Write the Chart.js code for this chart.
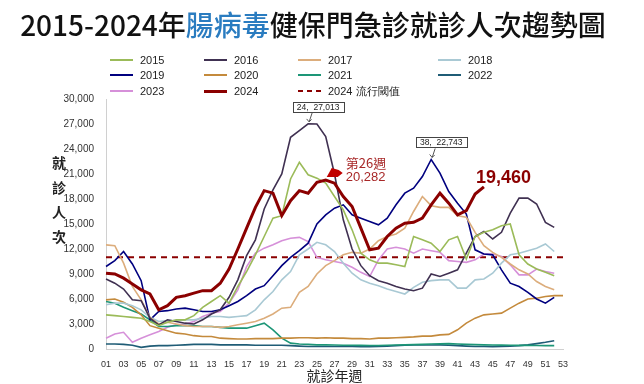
<!DOCTYPE html>
<html>
<head>
<meta charset="utf-8">
<script src="https://cdn.jsdelivr.net/npm/chart.js@4.4.1/dist/chart.umd.min.js"></script>
<style>
  body { margin: 0; background: #fff; }
  #wrap { position: relative; width: 644px; height: 384px; overflow: hidden; background: #fff; }
  #title { position: absolute; left: 0; top: 4px; width: 626px; text-align: center;
           font: 500 28px "Noto Sans CJK TC", sans-serif; color: #111; white-space: nowrap; }
  #title span { color: #2a7cc0; }
  canvas { position: absolute; left: 0; top: 0; }
  .lg { position: absolute; font: 11px Arial, sans-serif; color: #222; height: 14px; line-height: 14px; white-space: nowrap; }
  .lg i { display: inline-block; width: 23px; height: 2px; vertical-align: middle; margin-right: 7px; margin-top: -2px; }
</style>
</head>
<body>
<div id="wrap">
  <canvas id="evChart" width="644" height="384"></canvas>
  <div id="title">2015-2024年<span>腸病毒</span>健保門急診就診人次趨勢圖</div>
  <div id="legend"></div>
</div>
<script>
// Week labels (x axis)
const weeks = ['01','02','03','04','05','06','07','08','09','10','11','12','13','14','15','16','17','18',
  '19','20','21','22','23','24','25','26','27','28','29','30','31','32','33','34','35','36',
  '37','38','39','40','41','42','43','44','45','46','47','48','49','50','51','52','53'];

const years = ['2015','2016','2017','2018','2019','2020','2021','2022','2023','2024'];

// Weekly visits per year
const v2015 = [4100,4000,3900,3800,3700,3300,2800,3200,3500,3500, 4000,5000,5700,6400,5500,7500,9300,11300,13500,15700,
  16000,20400,22400,20900,20500,19900,18300,16700,14300,11500, 10700,10300,10300,10100,9900,13500,13100,12700,11700,13100,
  13500,10800,13500,14000,14300,14800,15000,11300,10200,9600, 9200,8800];
const v2016 = [8400,7900,7200,5900,5800,3700,2900,3500,3300,3100, 3000,3500,4200,4700,6200,8300,11200,13100,16800,19100,
  21000,25400,26200,27013,27000,25500,21000,15500,12000,10000, 8800,8200,7900,7500,7200,7000,7300,9000,8700,9100,
  9500,11500,13500,14100,13200,14000,16300,18100,18100,17400, 15200,14600];
const v2017 = [12500,12400,10300,7500,5900,3800,3000,3200,3000,2800, 2700,2700,2700,2600,2700,2900,3100,3300,3700,4200,
  4900,5000,6800,7500,9000,10000,10600,11300,11600,11500, 12000,13000,13500,13800,14500,16500,18300,17200,17000,17000,
  16000,15800,14000,12400,11600,11000,10200,9500,9000,8100, 7500,7100];
const v2018 = [5300,5500,5500,5200,4700,3800,3300,3400,3400,3500, 3500,3700,3900,3900,3800,3900,4000,4700,5900,6900,
  8300,9300,11300,12000,12800,12500,11700,10300,9100,8300, 7900,7600,7200,6900,6600,7400,8000,8200,8300,8300,
  7300,7300,8300,8400,9100,10300,11300,11500,11800,12100, 12600,11700];
const v2019 = [9900,10600,11700,10200,8200,3500,4500,4600,4800,4900, 4700,4500,4500,4700,5200,5700,6400,7200,7600,8800,
  10000,11000,11800,12700,15000,16100,16900,17300,16100,15700, 15300,14900,15700,17300,18700,19300,20700,22743,21100,18900,
  17500,16200,11900,11400,11300,9500,7900,7500,6800,6000, 5500,6200];
const v2020 = [5900,6000,5600,5000,4100,2800,2500,2200,1900,1800, 1600,1500,1500,1300,1250,1200,1200,1250,1250,1250,
  1300,1300,1350,1350,1300,1350,1300,1300,1250,1250, 1200,1300,1300,1350,1400,1450,1550,1550,1700,1750,
  2300,3100,3700,4100,4200,4300,4900,5500,6000,6100, 6300,6400,6400];
const v2021 = [5700,5500,5000,4600,4200,3500,2700,2700,2800,2800, 2800,2700,2700,2600,2500,2500,2500,2800,3100,2300,
  1300,700,600,550,500,500,480,450,450,430, 420,420,450,480,500,520,550,600,620,650,
  600,550,520,500,480,460,450,440,430,420, 410,400];
const v2022 = [600,600,550,450,200,350,400,400,450,500, 550,550,550,500,500,500,500,450,450,450,
  450,400,350,300,300,300,300,300,300,280, 280,300,350,400,450,500,500,480,500,450,
  400,350,300,300,280,300,350,400,500,650, 800,1000];
const v2023 = [1300,1800,2000,800,1300,1700,2100,2600,2900,3000, 3300,3900,4300,4500,5500,7100,9900,11500,12100,12500,
  13000,13300,13400,12900,11000,10700,10500,10300,9800,9200, 8700,10700,12000,12200,12000,11500,12000,11800,11600,10600,
  10500,10400,10700,11400,11400,11100,10100,8900,8900,9600, 9300,9100];
const v2024 = [9100,9000,8500,7800,7100,6600,4700,5200,6200,6400, 6700,7000,7000,7900,9600,12000,14500,17000,19000,18700,
  16000,17800,19000,18700,20000,20282,19900,18300,17100,14500, 11900,12100,13500,14500,15100,15200,15700,17300,18700,17500,
  16100,16600,18600,19460];

const series = [v2015, v2016, v2017, v2018, v2019, v2020, v2021, v2022, v2023, v2024];
const threshold = 11000;

// Callouts
const peakWeeks = [24, 38];       // 2016 and 2019 peaks
const peakYears = ['2016', '2019'];
const markWeek = 26;              // 2024 week 26
const lastWeek2024 = 44;

// Styles
const colors = ['#9bbb59','#403152','#dcad7c','#a9c9d4','#00007f','#c48a3c','#1d9677','#1f5c76','#d690d9','#8b0000'];
const darkRed = '#8b0000';

// Legend (HTML)
const legendCols = [110, 204, 298, 438];
const legendRows = [53, 68, 84];
const legendEl = document.getElementById('legend');
const legendItems = years.map((y, i) => ({ text: y, color: colors[i], w: y === '2024' ? 3 : 2 }));
legendItems.push({ text: '2024 流行閾值', dashed: true });
legendItems.forEach((it, i) => {
  const d = document.createElement('div');
  d.className = 'lg';
  d.style.left = legendCols[i % 4] + 'px';
  d.style.top = legendRows[Math.floor(i / 4)] + 'px';
  const sw = document.createElement('i');
  if (it.dashed) {
    sw.style.background = 'repeating-linear-gradient(90deg,' + darkRed + ' 0 5px,transparent 5px 9px)';
  } else {
    sw.style.background = it.color;
    sw.style.height = it.w + 'px';
  }
  d.appendChild(sw);
  d.appendChild(document.createTextNode(it.text));
  legendEl.appendChild(d);
});

function fmt(v) { return v.toLocaleString('en-US'); }

const overlay = {
  id: 'overlay',
  beforeDatasetsDraw(chart) {
    const { ctx, chartArea, scales } = chart;
    const y = scales.y.getPixelForValue(threshold);
    ctx.save();
    ctx.strokeStyle = darkRed;
    ctx.lineWidth = 2;
    ctx.setLineDash([6, 5]);
    ctx.beginPath();
    ctx.moveTo(chartArea.left, y);
    ctx.lineTo(chartArea.right, y);
    ctx.stroke();
    ctx.restore();
  },
  afterDatasetsDraw(chart) {
    const { ctx, scales } = chart;
    const xs = scales.x, ys = scales.y;
    ctx.save();

    // y axis title, stacked characters
    ctx.fillStyle = '#222';
    ctx.font = 'bold 14px "Noto Sans CJK TC"';
    ctx.textAlign = 'center';
    ctx.textBaseline = 'middle';
    ['就', '診', '人', '次'].forEach((c, i) => ctx.fillText(c, 59, 163 + i * 24.5));

    // peak boxes
    peakWeeks.forEach((w, k) => {
      const vals = series[years.indexOf(peakYears[k])];
      const v = vals[w - 1];
      const px = xs.getPixelForValue(w - 1), py = ys.getPixelForValue(v);
      const label = w + ',  ' + fmt(v);
      ctx.font = '8.5px Arial';
      const tw = ctx.measureText(label).width + 8;
      const bx = px + 10 - tw / 2, by = py - 22;
      ctx.fillStyle = '#fff';
      ctx.fillRect(bx, by, tw, 10);
      ctx.strokeStyle = '#444';
      ctx.lineWidth = 1;
      ctx.strokeRect(Math.round(bx) + 0.5, Math.round(by) + 0.5, Math.round(tw), 10);
      ctx.fillStyle = '#222';
      ctx.textAlign = 'center';
      ctx.textBaseline = 'middle';
      ctx.fillText(label, bx + tw / 2, by + 5.5);
      // arrow
      ctx.beginPath();
      ctx.moveTo(px + 4, by + 11);
      ctx.lineTo(px + 1, py - 2);
      ctx.strokeStyle = '#555';
      ctx.stroke();
      ctx.beginPath();
      ctx.moveTo(px + 1, py - 2);
      ctx.lineTo(px - 1.5, py - 5);
      ctx.moveTo(px + 1, py - 2);
      ctx.lineTo(px + 3.5, py - 4.5);
      ctx.stroke();
    });

    // week 26 marker and label
    const mv = v2024[markWeek - 1];
    const mx = xs.getPixelForValue(markWeek - 1), my = ys.getPixelForValue(mv);
    ctx.fillStyle = '#c00000';
    ctx.beginPath();
    ctx.moveTo(mx + 1, my - 3);
    ctx.lineTo(mx + 6, my - 12);
    ctx.lineTo(mx + 13, my - 10);
    ctx.lineTo(mx + 17, my - 7);
    ctx.lineTo(mx + 12, my - 3);
    ctx.closePath();
    ctx.fill();
    ctx.fillStyle = '#a82828';
    ctx.font = '13px "Noto Sans CJK TC"';
    ctx.textAlign = 'left';
    ctx.textBaseline = 'middle';
    ctx.fillText('第' + markWeek + '週', mx + 20, my - 17);
    ctx.font = '13px Arial';
    ctx.fillText(fmt(mv), mx + 20, my - 3);

    // last value of 2024
    const lv = v2024[lastWeek2024 - 1];
    const lx = xs.getPixelForValue(lastWeek2024 - 1), ly = ys.getPixelForValue(lv);
    ctx.fillStyle = darkRed;
    ctx.font = 'bold 18px Arial';
    ctx.textBaseline = 'alphabetic';
    ctx.fillText(fmt(lv), lx - 8, ly - 4);
    ctx.restore();
  }
};

new Chart(document.getElementById('evChart'), {
  type: 'line',
  data: {
    labels: weeks,
    datasets: years.map((y, i) => ({
      label: y,
      data: series[i],
      borderColor: colors[i],
      borderWidth: y === '2024' ? 3 : 1.6,
      pointRadius: 0,
      tension: 0,
      fill: false,
      order: y === '2024' ? -1 : i
    }))
  },
  options: {
    responsive: false,
    animation: false,
    events: [],
    layout: { padding: { top: 99, right: 81, bottom: 0, left: 0 } },
    plugins: { legend: { display: false }, title: { display: false }, tooltip: { enabled: false } },
    scales: {
      x: {
        type: 'category',
        offset: false,
        grid: { display: false },
        border: { display: true, color: '#d0d0d0' },
        ticks: {
          autoSkip: false, maxRotation: 0, padding: 2,
          font: { family: 'Arial', size: 9 }, color: '#333',
          callback: (v, i) => (i % 2 === 0 ? weeks[i] : '')
        },
        title: { display: true, text: '就診年週', color: '#222',
          font: { family: '"Noto Sans CJK TC"', size: 14 }, padding: { top: 0, bottom: 0 } },
        afterFit: s => { s.height = 35; }
      },
      y: {
        min: 0, max: 30000,
        grid: { display: false },
        border: { display: true, color: '#d0d0d0' },
        ticks: { stepSize: 3000, padding: 4, font: { family: 'Arial', size: 10 }, color: '#333',
          callback: v => fmt(v) },
        afterFit: s => { s.width = 106; }
      }
    }
  },
  plugins: [overlay]
});
</script>
</body>
</html>
